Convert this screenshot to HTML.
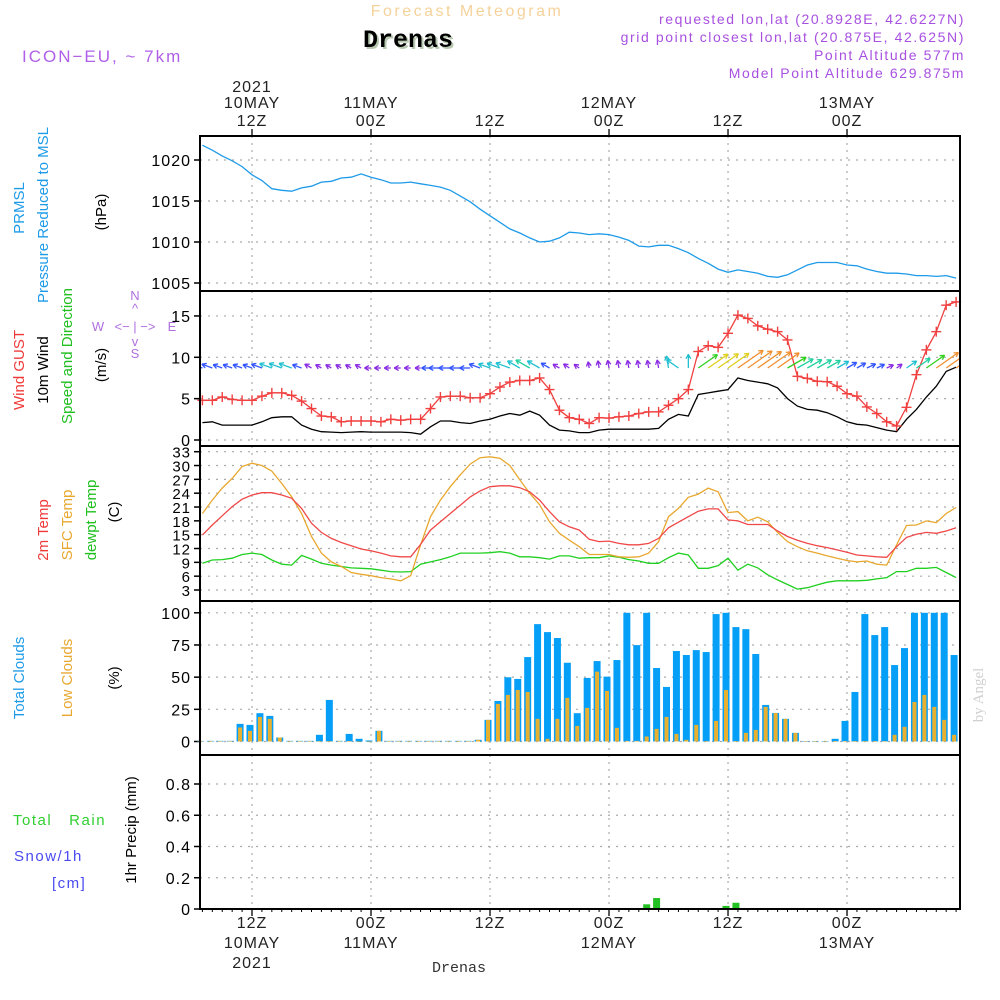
<!DOCTYPE html>
<html><head><meta charset="utf-8">
<style>
html,body{margin:0;padding:0;background:#fff;}
svg{display:block;font-family:"Liberation Sans",sans-serif;}
</style></head>
<body>
<svg id="chart" width="1000" height="1000" viewBox="0 0 1000 1000" xmlns="http://www.w3.org/2000/svg">
<defs><clipPath id="windclip"><rect x="200" y="291" width="760" height="155"/></clipPath></defs>
<rect x="0" y="0" width="1000" height="1000" fill="#fff"/>
<text x="467" y="16" text-anchor="middle" font-size="16" fill="#f5d29a" letter-spacing="2.5">Forecast Meteogram</text>
<text x="410" y="49" text-anchor="middle" font-size="25" font-weight="bold" font-family="Liberation Mono, monospace" fill="#b8c8b0">Drenas</text>
<text x="408" y="47" text-anchor="middle" font-size="25" font-weight="bold" font-family="Liberation Mono, monospace" fill="#000">Drenas</text>
<text x="22" y="62" font-size="17" fill="#b060e8" letter-spacing="2">ICON−EU, ~ 7km</text>
<g font-size="14" fill="#a850e0" text-anchor="end" letter-spacing="1.6">
<text x="965" y="24">requested lon,lat (20.8928E, 42.6227N)</text>
<text x="965" y="42">grid point closest lon,lat (20.875E, 42.625N)</text>
<text x="965" y="60">Point Altitude 577m</text>
<text x="965" y="78">Model Point Altitude 629.875m</text>
</g>
<text transform="translate(983,695) rotate(-90)" text-anchor="middle" font-size="15" font-family="Liberation Serif, serif" fill="#d0d0d0">by Angel</text>
<text x="459" y="972" text-anchor="middle" font-size="15" font-family="Liberation Mono, monospace" fill="#333">Drenas</text>

<g font-size="15">
<text transform="translate(24,208) rotate(-90)" text-anchor="middle" fill="#1e9be8">PRMSL</text>
<text transform="translate(48,215) rotate(-90)" text-anchor="middle" fill="#1e9be8">Pressure Reduced to MSL</text>
<text transform="translate(106,212) rotate(-90)" text-anchor="middle" fill="#000">(hPa)</text>
<text transform="translate(24,370) rotate(-90)" text-anchor="middle" fill="#f03a3a">Wind GUST</text>
<text transform="translate(48,370) rotate(-90)" text-anchor="middle" fill="#000">10m Wind</text>
<text transform="translate(72,356) rotate(-90)" text-anchor="middle" fill="#20c020">Speed and Direction</text>
<text transform="translate(106,365) rotate(-90)" text-anchor="middle" fill="#000">(m/s)</text>
<text transform="translate(48,530) rotate(-90)" text-anchor="middle" fill="#f03a3a">2m Temp</text>
<text transform="translate(72,525) rotate(-90)" text-anchor="middle" fill="#e8a830">SFC Temp</text>
<text transform="translate(96,520) rotate(-90)" text-anchor="middle" fill="#20c020">dewpt Temp</text>
<text transform="translate(119,512) rotate(-90)" text-anchor="middle" fill="#000">(C)</text>
<text transform="translate(24,678) rotate(-90)" text-anchor="middle" fill="#1e9be8">Total Clouds</text>
<text transform="translate(72,678) rotate(-90)" text-anchor="middle" fill="#e8a830">Low Clouds</text>
<text transform="translate(119,678) rotate(-90)" text-anchor="middle" fill="#000">(%)</text>
<text transform="translate(136,830) rotate(-90)" text-anchor="middle" fill="#000">1hr Precip (mm)</text>
<text x="13" y="825" fill="#30d030" letter-spacing="1.5" xml:space="preserve">Total   Rain</text>
<text x="14" y="861" fill="#4a4af0" letter-spacing="1.5">Snow/1h</text>
<text x="52" y="888" fill="#4a4af0" letter-spacing="1.5">[cm]</text>
</g>
<g fill="#b070e0" stroke="none" font-size="13">
<text x="135" y="300" text-anchor="middle">N</text>
<text x="135" y="313" text-anchor="middle">^</text>
<text x="98" y="331" text-anchor="middle">W</text>
<text x="135" y="331" text-anchor="middle">&lt;− | −&gt;</text>
<text x="172" y="331" text-anchor="middle">E</text>
<text x="135" y="346" text-anchor="middle">v</text>
<text x="135" y="358" text-anchor="middle">S</text>
</g>
<g id="plot"></g>
</svg>
<script>
// ---------- data ----------
const hours = Array.from({length: 77}, (_, i) => i - 5); // hours after 12Z 10MAY
const timeTicks = [0, 12, 24, 36, 48, 60];
const topDateLabels = ["10MAY", "11MAY", "", "12MAY", "", "13MAY"];
const topHourLabels = ["12Z", "00Z", "12Z", "00Z", "12Z", "00Z"];
const pressure = [1021.8,1021.2,1020.5,1019.9,1019.2,1018.2,1017.5,1016.5,1016.3,1016.2,1016.6,1016.8,1017.3,1017.4,1017.8,1017.9,1018.3,1017.9,1017.6,1017.2,1017.2,1017.3,1017.1,1016.9,1016.7,1016.3,1015.6,1014.9,1014.0,1013.2,1012.4,1011.6,1011.1,1010.5,1010.0,1010.1,1010.5,1011.2,1011.1,1010.9,1011.0,1010.9,1010.6,1010.2,1009.5,1009.4,1009.6,1009.6,1009.2,1008.7,1008.0,1007.4,1006.7,1006.3,1006.6,1006.4,1006.2,1005.8,1005.7,1006.0,1006.6,1007.2,1007.5,1007.5,1007.5,1007.2,1007.1,1006.7,1006.4,1006.2,1006.2,1006.1,1005.9,1005.9,1005.8,1005.9,1005.6];
const pressureTicks = [1005, 1010, 1015, 1020];
const windGust = [4.8,4.8,5.2,4.9,4.8,4.8,5.3,5.7,5.7,5.4,4.7,3.8,2.9,2.8,2.2,2.3,2.3,2.3,2.2,2.5,2.4,2.5,2.5,3.8,5.2,5.3,5.3,5.1,5.1,5.6,6.4,7.0,7.2,7.2,7.5,6.1,3.6,2.7,2.5,2.0,2.7,2.65,2.8,2.9,3.2,3.4,3.4,4.2,5.0,6.1,10.7,11.4,11.2,12.9,15.1,14.7,13.8,13.4,13.1,12.1,7.7,7.45,7.1,7.05,6.5,5.6,5.3,4.0,3.2,2.2,1.7,3.95,7.9,10.9,13.1,16.3,16.7];
const wind10m = [2.1,2.2,1.8,1.8,1.8,1.8,2.2,2.7,2.8,2.8,1.8,1.3,1.0,0.95,0.9,0.95,1.0,0.95,0.95,0.95,0.95,0.9,0.7,1.6,2.3,2.3,2.1,2.0,2.3,2.5,2.9,3.2,3.0,3.5,3.0,1.8,1.2,1.1,0.9,0.9,1.2,1.3,1.3,1.3,1.3,1.3,1.4,2.5,3.1,2.9,5.5,5.7,5.9,6.1,7.5,7.2,7.0,6.8,6.3,5.0,4.1,3.7,3.6,3.3,2.8,2.2,1.9,1.8,1.5,1.2,1.0,2.5,3.7,5.2,6.5,8.3,8.8];
const windDir = [110,110,110,110,110,110,110,110,110,110,110,120,120,120,120,120,120,90,90,90,90,90,90,90,90,90,90,90,110,110,110,110,120,120,120,120,120,125,125,170,170,170,170,170,170,170,170,170,125,180,235,235,235,235,235,235,235,235,235,240,240,240,240,240,240,240,240,245,245,245,235,235,235,235,235,235,235];
const windTicks = [0, 5, 10, 15];
const temp2m = [14.9,17.1,19.1,21.1,22.7,23.6,24.1,24.1,23.6,22.9,20.7,17.5,15.5,14.2,13.3,12.6,11.9,11.5,11.0,10.4,10.2,10.2,12.9,16.0,17.8,19.6,21.4,23.2,24.5,25.4,25.6,25.6,25.2,24.3,22.5,20.0,17.8,16.7,16.0,14.0,13.5,13.6,13.1,12.8,12.8,13.1,14.2,16.5,17.7,18.9,20.1,20.6,20.6,18.2,18.0,17.2,17.2,17.2,15.8,14.6,13.8,13.1,12.6,12.2,11.7,11.2,10.6,10.4,10.2,10.1,12.4,14.4,15.1,15.5,15.3,15.8,16.5];
const tempSfc = [19.6,22.5,25.1,27.2,29.8,30.5,30.0,28.8,26.1,23.2,19.6,14.6,11.0,9.1,8.1,6.8,6.4,6.1,5.7,5.4,5.0,6.1,12.8,18.9,22.5,25.4,28.0,30.3,31.7,31.9,31.6,30.0,26.9,24.0,21.5,17.8,15.3,13.8,12.4,10.7,10.7,10.7,10.2,10.1,10.2,11.0,13.5,18.9,20.7,23.1,23.8,25.1,24.3,19.8,20.0,18.0,18.8,17.8,15.5,13.5,12.4,11.5,11.0,10.4,9.9,9.4,9.1,9.3,8.6,8.4,12.8,17.0,17.1,18.0,17.6,19.6,20.9];
const dewpoint = [8.8,9.5,9.6,9.9,10.7,11.0,10.7,9.5,8.6,8.4,10.5,9.7,8.8,8.4,8.1,7.8,7.7,7.6,7.3,7.0,6.9,7.0,8.6,9.1,9.6,10.2,11.0,11.0,11.0,11.1,11.3,11.0,10.2,10.2,10.0,9.7,10.4,10.4,9.9,10.0,10.0,10.4,10.1,9.6,9.3,8.8,8.8,10.0,11.0,10.6,7.7,7.7,8.3,9.9,7.3,8.6,7.8,6.3,5.2,4.2,3.2,3.5,4.1,4.7,5.0,5.0,5.0,5.1,5.4,5.7,7.0,7.0,7.7,7.7,7.9,6.8,5.7];
const tempTicks = [3, 6, 9, 12, 15, 18, 21, 24, 27, 30, 33];
const totalClouds = [0,0.5,0.5,0.5,13.7,12.9,22,19.9,3.1,0.5,0.5,0.5,5.2,32.3,0.5,5.9,2.1,0.8,8.3,0.5,0.5,0.5,0.5,0.5,0.5,0.5,0.5,0.5,1.3,16.8,31.5,49.9,48.6,65.6,91.2,85,80.4,61.2,22,49.4,62.5,50.4,63.3,100,74.9,100,57.1,42.4,70.3,67.2,71,69.5,99,100,88.9,87.3,68,28.4,22.2,17.6,6.7,0.3,0.3,0.3,2.1,16,38.5,99,82.7,88.9,59.4,72.6,100,100,100,100,67.2];
const lowClouds = [0,0.3,0.3,0.3,10.9,8.3,19.1,17.6,3.1,0.3,0.3,0.3,0.3,0.3,0.3,0.3,0,0,8.3,0.3,0.3,0.3,0.3,0.3,0.3,0.3,0.3,0.3,1.3,16.8,29.2,36.2,40,38.5,17.6,2.1,17.6,33.9,12.1,26.1,54.3,39.3,10.6,0.5,0.5,3.9,9.8,19.1,5.9,1.3,12.9,0.3,16,40,0.3,6.7,9,26.9,22.2,17.6,6.7,0.3,0.3,0.3,0.3,0.3,0.3,0.3,0.3,0.3,5.2,11.4,30.7,36.2,26.9,16.8,5.2];
const cloudTicks = [0, 25, 50, 75, 100];
const precip = [0,0,0,0,0,0,0,0,0,0,0,0,0,0,0,0,0,0,0,0,0,0,0,0,0,0,0,0,0,0,0,0,0,0,0,0,0,0,0,0,0,0,0,0,0,0.03,0.07,0,0,0,0,0,0,0.02,0.04,0,0,0,0,0,0,0,0,0,0,0,0,0,0,0,0,0,0,0,0,0.005,0];
const precipTicks = [0, 0.2, 0.4, 0.6, 0.8];
const precipTickLabels = ["0", "0.2", "0.4", "0.6", "0.8"];

// ---------- geometry ----------
const NS = "http://www.w3.org/2000/svg";
const plot = document.getElementById("plot");
const X0 = 200, X1 = 960;
const xOf = h => 252 + h * 9.917;
const panels = [
  {name:"pressure", top:136, bottom:291, y:v => 283 - (v - 1005) * 8.2},
  {name:"wind", top:291, bottom:446, y:v => 440 - v * 8.27},
  {name:"temperature", top:446, bottom:601, y:v => 590 - (v - 3) * 4.61},
  {name:"clouds", top:601, bottom:755, y:v => 741.5 - v * 1.287},
  {name:"precip", top:755, bottom:909, y:v => 909 - v * 156.25}
];
function el(tag, attrs, parent) {
  const e = document.createElementNS(NS, tag);
  for (const k in attrs) e.setAttribute(k, attrs[k]);
  (parent || plot).appendChild(e);
  return e;
}
function line(x1,y1,x2,y2,stroke,w,dash,parent){
  return el("line",{x1,y1,x2,y2,stroke,"stroke-width":w||1,"stroke-dasharray":dash||"none"},parent);
}
function txt(x,y,s,size,anchor,fill,parent){
  const t = el("text",{x,y,"font-size":size,"text-anchor":anchor||"middle",fill:fill||"#000","letter-spacing":1},parent);
  t.textContent = s; return t;
}
function path(vals, yf, color, name){
  let d = "";
  vals.forEach((v,i)=>{ d += (i?"L":"M") + xOf(hours[i]).toFixed(1) + "," + yf(v).toFixed(1); });
  const p = el("path",{d,fill:"none",stroke:color,"stroke-width":1.3});
  
  
  return p;
}

const tickSets = [pressureTicks, windTicks, tempTicks, cloudTicks, precipTicks];
panels.forEach((p, pi) => {
  const g = el("g",{});
  
  
  timeTicks.forEach(h => line(xOf(h), p.top, xOf(h), p.bottom, "#aaa", 1.2, "2,5", g));
  tickSets[pi].forEach((v, k) => {
    const y = p.y(v);
    line(X0, y, X1, y, "#aaa", 1.2, "2,6", g);
    line(X0 - 6, y, X0, y, "#000", 1.5, null, g);
    const lab = pi === 4 ? precipTickLabels[k] : String(v);
    const t = txt(X0 - 9, y + 6, lab, pi === 2 ? 15 : 16, "end", "#000", g);
    
    
  });
});

path(pressure, panels[0].y, "#1e9be8", "pressure-line");

path(wind10m, panels[1].y, "#000", "wind-10m-line");
path(windGust, panels[1].y, "#f04040", "wind-gust-line");
const gustMarks = el("g",{});


windGust.forEach((v,i)=>{
  const x = xOf(hours[i]), y = panels[1].y(v);
  line(x-5,y,x+5,y,"#f04040",1.4,null,gustMarks);
  line(x,y-5,x,y+5,"#f04040",1.4,null,gustMarks);
});
function windColor(s){
  if (s < 1.5) return "#8a2be2";
  if (s < 2.4) return "#3355ff";
  if (s < 3.3) return "#20c0d0";
  if (s < 4.5) return "#20d0a0";
  if (s < 5.6) return "#30d020";
  if (s < 6.2) return "#e0d020";
  return "#f09030";
}
const arrows = el("g",{"clip-path":"url(#windclip)"});


wind10m.forEach((s,i)=>{
  const x = xOf(hours[i]), y = 368;
  const to = (windDir[i] + 180) * Math.PI / 180;
  const L = 3 + s * 3.7;
  const dx = Math.sin(to), dy = -Math.cos(to);
  const x2 = x + dx * L, y2 = y + dy * L;
  const c = windColor(s);
  const a = el("g",{},arrows);
  
  
  line(x,y,x2,y2,c,1.3,null,a);
  const ang = Math.atan2(dy,dx), hl = 5;
  line(x2,y2,x2-hl*Math.cos(ang-0.5),y2-hl*Math.sin(ang-0.5),c,1.3,null,a);
  line(x2,y2,x2-hl*Math.cos(ang+0.5),y2-hl*Math.sin(ang+0.5),c,1.3,null,a);
});

path(dewpoint, panels[2].y, "#20d020", "dewpoint-line");
path(tempSfc, panels[2].y, "#e8a830", "sfc-temp-line");
path(temp2m, panels[2].y, "#f04848", "temp-2m-line");

const cg = el("g",{});


totalClouds.forEach((v,i)=>{
  const x = xOf(hours[i]) - 2, y0 = panels[3].y(0);
  const yt = panels[3].y(v);
  const b = el("rect",{x:x-3.5,y:yt,width:7,height:Math.max(y0-yt,0.5),fill:"#069ff8"},cg);
  
  
  const yl = panels[3].y(lowClouds[i]);
  const o = el("rect",{x:x-2,y:yl,width:4,height:Math.max(y0-yl,0.5),fill:"#e8b030"},cg);
  
  
});

const pg = el("g",{});


precip.forEach((v,i)=>{
  if (v <= 0) return;
  const x = xOf(hours[i]) - 2, y0 = panels[4].y(0), yt = panels[4].y(v);
  const b = el("rect",{x:x-3.5,y:yt,width:7,height:y0-yt,fill:"#22c022"},pg);
  
  
});

panels.forEach(p=>{
  const r = el("rect",{x:X0,y:p.top,width:X1-X0,height:p.bottom-p.top,fill:"none",stroke:"#000","stroke-width":2});
  
  
});
const ta = el("g",{});


timeTicks.forEach((h,k)=>{
  const x = xOf(h);
  line(x,129,x,136,"#000",1.3,null,ta);
  line(x,909,x,916,"#000",1.3,null,ta);
  txt(x,126,topHourLabels[k],16,"middle","#222",ta);
  if (topDateLabels[k]) txt(x,108,topDateLabels[k],16,"middle","#222",ta);
  txt(x,928,topHourLabels[k],16,"middle","#222",ta);
  if (topDateLabels[k]) txt(x,948,topDateLabels[k],16,"middle","#222",ta);
});
for (let h=-5; h<=71; h++){ line(xOf(h),909,xOf(h),912,"#000",1,null,ta); }
txt(xOf(0),92,"2021",16,"middle","#222",ta);
txt(xOf(0),968,"2021",16,"middle","#222",ta);
</script>
</body></html>
